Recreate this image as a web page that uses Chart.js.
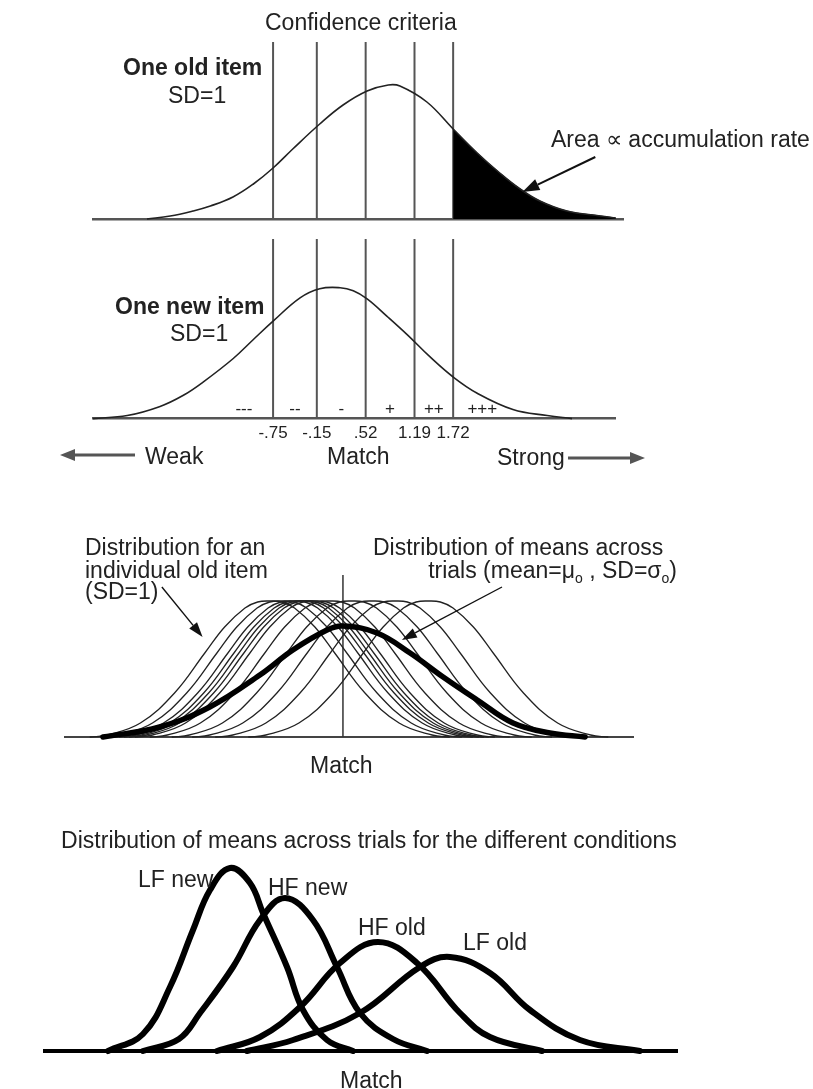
<!DOCTYPE html>
<html>
<head>
<meta charset="utf-8">
<script src="https://cdn.jsdelivr.net/npm/chart.js@4.4.1/dist/chart.umd.min.js"></script>
<style>
  body { margin: 0; background: #fff; }
  #fig { position: relative; width: 813px; height: 1089px; overflow: hidden;
         font-family: "Liberation Sans", Arial, Helvetica, sans-serif; color: #222; }
  #fig canvas { position: absolute; left: 0; }
  .t { position: absolute; font-size: 23px; line-height: 22px; white-space: nowrap; z-index: 2; }
  .b { font-weight: bold; }
  .t sub { font-size: 14px; line-height: 0; vertical-align: -5px; }
</style>
</head>
<body>
<div id="fig">
  <canvas id="oldItem" width="813" height="230" style="top:0"></canvas>
  <canvas id="newItem" width="813" height="250" style="top:230px"></canvas>
  <canvas id="itemMeans" width="813" height="300" style="top:480px"></canvas>
  <canvas id="conditions" width="813" height="309" style="top:780px"></canvas>

  <div class="t" style="left:265px;top:11px">Confidence criteria</div>
  <div class="t b" style="left:123px;top:56px">One old item</div>
  <div class="t" style="left:168px;top:84px">SD=1</div>
  <div class="t" style="left:551px;top:128px">Area &#x221D; accumulation rate</div>

  <div class="t b" style="left:115px;top:295px">One new item</div>
  <div class="t" style="left:170px;top:322px">SD=1</div>
  <div class="t" style="left:145px;top:445px">Weak</div>
  <div class="t" style="left:327px;top:445px">Match</div>
  <div class="t" style="left:497px;top:446px">Strong</div>

  <div class="t" style="left:85px;top:536px">Distribution for an</div>
  <div class="t" style="left:85px;top:559px">individual old item</div>
  <div class="t" style="left:85px;top:580px">(SD=1)</div>
  <div class="t" style="left:373px;top:536px">Distribution of means across</div>
  <div class="t" style="right:136px;top:559px">trials (mean=&#x3BC;<sub>o</sub> , SD=&#x3C3;<sub>o</sub>)</div>
  <div class="t" style="left:310px;top:754px">Match</div>

  <div class="t" style="left:369px;top:829px;transform:translateX(-50%)">Distribution of means across trials for the different conditions</div>
  <div class="t" style="left:138px;top:868px">LF new</div>
  <div class="t" style="left:268px;top:876px">HF new</div>
  <div class="t" style="left:358px;top:916px">HF old</div>
  <div class="t" style="left:463px;top:931px">LF old</div>
  <div class="t" style="left:340px;top:1069px">Match</div>
</div>

<script>
// confidence criteria on the match axis, and the rating bins they separate
const criteria = [-0.75, -0.15, 0.52, 1.19, 1.72];
const criteriaLabels = ['-.75', '-.15', '.52', '1.19', '1.72'];
const ratingLabels = ['---', '--', '-', '+', '++', '+++'];
const criterionHeight = 177;

// single old item (SD=1)
const oldItemX = [-2.48, -2.16, -1.85, -1.61, -1.30, -1.02, -0.75, -0.48, -0.11, 0.21, 0.54, 0.83, 0.99, 1.36, 1.72, 2.05, 2.36, 2.64, 2.91, 3.28, 3.74, 3.95];
const oldItemY = [0, 3, 8, 13, 22, 35, 51, 70, 95, 114, 128, 134, 133, 117, 90, 66, 46, 30, 18, 8, 3, 1];

// single new item (SD=1)
const newItemX = [-3.22, -2.75, -2.30, -1.98, -1.71, -1.30, -1.02, -0.75, -0.38, -0.11, 0.17, 0.35, 0.54, 0.81, 1.10, 1.40, 1.72, 2.05, 2.54, 3.01, 3.35];
const newItemY = [0, 3, 12, 23, 36, 59, 78, 96, 119, 128, 129, 126, 118, 101, 82, 61, 41, 25, 9, 3, 0];

// individual old items: same SD=1 profile around different means
const itemOffsets = [-3.27, -2.95, -2.35, -1.73, -1.18, -0.82, -0.45, -0.22, 0, 0.22, 0.45, 0.82, 1.18, 1.73, 2.35, 2.95, 3.27];
const itemHeights = [0, 2, 14, 44, 84, 110, 129, 135, 136, 135, 129, 110, 84, 44, 14, 2, 0];
const itemMeans = [-1.33, -1.11, -0.91, -0.80, -0.71, -0.62, -0.51, -0.24, 0.16, 0.53, 0.95, 1.55];

// distribution of means across trials
const meansX = [-4.36, -3.33, -2.42, -1.51, -0.91, -0.29, 0, 0.62, 1.22, 1.82, 2.44, 3.09, 3.76, 4.40];
const meansY = [0, 10, 30, 62, 87, 107, 111, 104, 84, 60, 37, 14, 4, 0];
const matchLineHeight = 162;

// means across trials per condition
const lfNewX = [-5.26, -4.56, -4.02, -3.56, -3.22, -2.82, -2.42, -2.16, -1.68, -1.36, -0.88, -0.36];
const lfNewY = [0, 17, 64, 121, 161, 183, 168, 138, 84, 41, 11, 0];
const hfNewX = [-4.56, -3.84, -3.42, -2.76, -2.22, -1.72, -1.16, -0.68, -0.22, 0.44, 1.12];
const hfNewY = [0, 12, 38, 84, 131, 153, 131, 84, 38, 12, 0];
const hfOldX = [-3.08, -2.22, -1.42, -0.62, 0.14, 0.92, 1.78, 2.38, 3.42];
const hfOldY = [0, 14, 44, 88, 109, 88, 38, 14, 0];
const lfOldX = [-2.48, -1.56, -0.22, 0.98, 1.58, 2.38, 3.18, 4.18, 5.38];
const lfOldY = [0, 11, 38, 84, 94, 78, 41, 11, 0];

const curve = (xs, ys) => xs.map((x, i) => ({ x, y: ys[i] }));
const vline = (x, h) => [{ x, y: 0 }, { x, y: h }];

function drawArrow(ctx, x1, y1, x2, y2, color, width, len, half) {
  const a = Math.atan2(y2 - y1, x2 - x1);
  const bx = x2 - Math.cos(a) * len, by = y2 - Math.sin(a) * len;
  ctx.save();
  ctx.strokeStyle = color; ctx.fillStyle = color; ctx.lineWidth = width;
  ctx.beginPath(); ctx.moveTo(x1, y1); ctx.lineTo(bx, by); ctx.stroke();
  ctx.beginPath();
  ctx.moveTo(x2, y2);
  ctx.lineTo(bx + Math.sin(a) * half, by - Math.cos(a) * half);
  ctx.lineTo(bx - Math.sin(a) * half, by + Math.cos(a) * half);
  ctx.closePath(); ctx.fill();
  ctx.restore();
}

// arrows given in data units, or in canvas pixels when px is set
const arrowPlugin = {
  id: 'arrows',
  afterDatasetsDraw(chart, args, opts) {
    const { ctx, scales: { x, y } } = chart;
    (opts.items || []).forEach(a => {
      const p = a.px ? [a.from, a.to] :
        [[x.getPixelForValue(a.from[0]), y.getPixelForValue(a.from[1])],
         [x.getPixelForValue(a.to[0]), y.getPixelForValue(a.to[1])]];
      drawArrow(ctx, p[0][0], p[0][1], p[1][0], p[1][1], a.color || '#111', a.width || 1.5, a.len || 14, a.half || 5);
    });
  }
};

// rating symbols sit between the criteria, just above the axis
const ratingPlugin = {
  id: 'ratings',
  afterDatasetsDraw(chart, args, opts) {
    if (!opts.show) return;
    const { ctx, scales: { x, y } } = chart;
    const pos = [criteria[0] - 0.4];
    for (let i = 0; i < criteria.length - 1; i++) pos.push((criteria[i] + criteria[i + 1]) / 2);
    pos.push(criteria[criteria.length - 1] + 0.4);
    ctx.save();
    ctx.font = '17px "Liberation Sans", Arial, sans-serif';
    ctx.fillStyle = '#222';
    ctx.textAlign = 'center';
    ctx.textBaseline = 'alphabetic';
    ratingLabels.forEach((s, i) => ctx.fillText(s, x.getPixelForValue(pos[i]), y.getPixelForValue(0) - 5));
    ctx.restore();
  }
};

function panelOptions(p) {
  return {
    responsive: false,
    animation: false,
    layout: { padding: p.pad },
    datasets: { line: { clip: false, pointRadius: 0, fill: false, tension: 0.4 } },
    plugins: {
      legend: { display: false },
      tooltip: { enabled: false },
      arrows: { items: p.arrows || [] },
      ratings: { show: !!p.ratings }
    },
    scales: {
      x: {
        type: 'linear', min: p.xMin, max: p.xMax,
        grid: { display: false, drawTicks: false },
        border: { color: p.axisColor, width: p.axisWidth },
        ticks: p.ticks || { display: false },
        afterBuildTicks: p.afterBuildTicks
      },
      y: { display: false, min: 0, max: p.yMax }
    }
  };
}

const criterionLines = () => criteria.map(c => ({
  data: vline(c, criterionHeight), borderColor: '#555', borderWidth: 2, tension: 0
}));

// one old item with the shaded strongest-rating tail
const oldCurve = curve(oldItemX, oldItemY);
new Chart(document.getElementById('oldItem'), {
  type: 'line',
  data: {
    datasets: [
      { data: oldCurve, borderColor: '#222', borderWidth: 1.6 },
      { data: oldCurve.filter(p => p.x >= criteria[criteria.length - 1]), borderColor: '#000', borderWidth: 1,
        backgroundColor: '#000', fill: 'origin' },
      ...criterionLines()
    ]
  },
  options: panelOptions({
    xMin: -3.22, xMax: 4.05, yMax: 189,
    pad: { left: 93, right: 190, top: 30, bottom: 11 },
    axisColor: '#555', axisWidth: 2.5,
    arrows: [{ from: [3.67, 62], to: [2.67, 27], color: '#111', width: 2, len: 17, half: 6 }]
  }),
  plugins: [arrowPlugin, ratingPlugin]
});

// one new item, criteria labelled on the axis
new Chart(document.getElementById('newItem'), {
  type: 'line',
  data: {
    datasets: [
      { data: curve(newItemX, newItemY), borderColor: '#222', borderWidth: 1.6 },
      ...criterionLines()
    ]
  },
  options: panelOptions({
    xMin: -3.22, xMax: 3.94, yMax: 178,
    pad: { left: 93, right: 198, top: 8, bottom: 31 },
    axisColor: '#555', axisWidth: 2.5,
    ratings: true,
    ticks: {
      display: true, autoSkip: false, maxRotation: 0, padding: 5, color: '#222',
      font: { family: '"Liberation Sans", Arial, sans-serif', size: 17 },
      callback: (v, i) => criteriaLabels[i]
    },
    afterBuildTicks: axis => { axis.ticks = criteria.map(v => ({ value: v })); },
    arrows: [
      { px: true, from: [135, 225], to: [60, 225], color: '#555', width: 3, len: 15, half: 6 },
      { px: true, from: [568, 228], to: [645, 228], color: '#555', width: 3, len: 15, half: 6 }
    ]
  }),
  plugins: [arrowPlugin, ratingPlugin]
});

// individual old items and the distribution of their means
new Chart(document.getElementById('itemMeans'), {
  type: 'line',
  data: {
    datasets: [
      { data: curve(meansX, meansY), borderColor: '#000', borderWidth: 5.5, borderCapStyle: 'round' },
      ...itemMeans.map(m => ({
        data: curve(itemOffsets.map(o => m + o), itemHeights),
        borderColor: '#222', borderWidth: 1.3
      })),
      { data: vline(0, matchLineHeight), borderColor: '#333', borderWidth: 1.5, tension: 0 }
    ]
  },
  options: panelOptions({
    xMin: -5.05, xMax: 5.27, yMax: 197,
    pad: { left: 65, right: 180, top: 60, bottom: 43 },
    axisColor: '#444', axisWidth: 2,
    arrows: [
      { from: [-3.29, 150], to: [-2.55, 100], color: '#111', width: 1.4, len: 15, half: 5 },
      { from: [2.89, 150], to: [1.07, 97], color: '#111', width: 1.4, len: 15, half: 5 }
    ]
  }),
  plugins: [arrowPlugin, ratingPlugin]
});

// means across trials for the four conditions
const conditionSeries = [[lfNewX, lfNewY], [hfNewX, hfNewY], [hfOldX, hfOldY], [lfOldX, lfOldY]];
new Chart(document.getElementById('conditions'), {
  type: 'line',
  data: {
    datasets: conditionSeries.map(([xs, ys]) => ({
      data: curve(xs, ys), borderColor: '#000', borderWidth: 6,
      borderCapStyle: 'round', borderJoinStyle: 'round'
    }))
  },
  options: panelOptions({
    xMin: -6.52, xMax: 6.12, yMax: 211,
    pad: { left: 45, right: 136, top: 60, bottom: 38 },
    axisColor: '#000', axisWidth: 4
  }),
  plugins: [arrowPlugin, ratingPlugin]
});
</script>
</body>
</html>
